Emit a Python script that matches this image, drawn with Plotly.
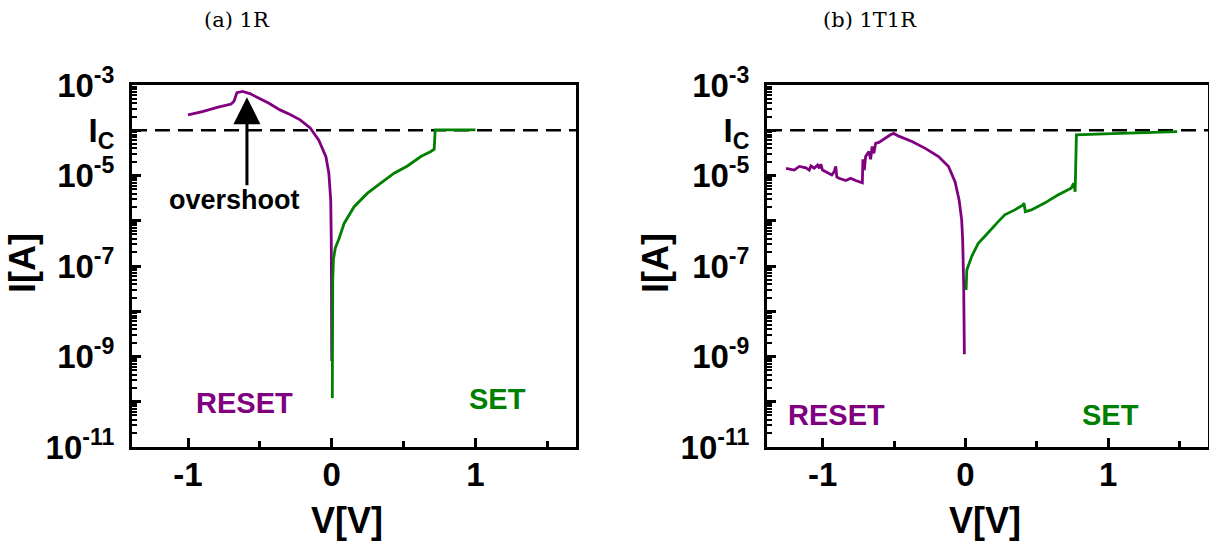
import numpy as np
import plotly.graph_objects as go

# ---------------- data (log10 of current) ----------------
reset_1r_v = [-1.00, -0.90, -0.79, -0.70, -0.68, -0.66, -0.62, -0.57, -0.52, -0.44, -0.36,
              -0.29, -0.22, -0.15, -0.09, -0.04, -0.02, -0.007, -0.003, -0.001, 0.0]
reset_1r_logi = [-3.66, -3.59, -3.49, -3.42, -3.36, -3.17, -3.14, -3.19, -3.27, -3.40, -3.55,
                 -3.65, -3.77, -3.95, -4.22, -4.59, -4.95, -5.54, -6.5, -7.8, -9.10]

set_1r_v = [0.004, 0.005, 0.007, 0.012, 0.025, 0.051, 0.086, 0.156, 0.249, 0.341, 0.434,
            0.527, 0.620, 0.690, 0.713, 0.720, 0.80, 0.90, 1.00]
set_1r_logi = [-9.92, -8.40, -7.30, -6.85, -6.60, -6.39, -6.06, -5.69, -5.39, -5.17, -4.95,
               -4.79, -4.58, -4.47, -4.42, -3.99, -3.99, -3.99, -3.99]

reset_1t1r_v = [-1.257, -1.199, -1.164, -1.117, -1.094, -1.082, -1.059, -1.036, -1.024, -1.013,
                -1.001, -0.978, -0.955, -0.936, -0.920, -0.908, -0.901, -0.885, -0.838, -0.804,
                -0.769, -0.722, -0.718, -0.708, -0.699, -0.676, -0.664, -0.653, -0.641, -0.629,
                -0.606, -0.583, -0.560, -0.525, -0.502, -0.467, -0.374, -0.281, -0.188, -0.118,
                -0.072, -0.044, -0.026, -0.019, -0.012, -0.007]
reset_1t1r_logi = [-4.84, -4.88, -4.80, -4.83, -4.88, -4.79, -4.84, -4.77, -4.84, -4.75,
                   -4.88, -4.92, -4.95, -4.99, -4.92, -4.80, -5.03, -5.06, -5.11, -5.06,
                   -5.11, -5.16, -4.64, -4.88, -4.58, -4.47, -4.64, -4.36, -4.51, -4.29,
                   -4.27, -4.22, -4.16, -4.10, -4.07, -4.13, -4.25, -4.40, -4.58, -4.80,
                   -5.14, -5.54, -5.98, -6.43, -7.40, -8.95]

set_1t1r_v = [0.005, 0.010, 0.044, 0.090, 0.140, 0.183, 0.230, 0.276, 0.346, 0.404, 0.410,
              0.420, 0.462, 0.555, 0.648, 0.741, 0.760, 0.769, 0.778, 0.973, 1.200, 1.484]
set_1t1r_logi = [-7.53, -7.09, -6.79, -6.50, -6.33, -6.17, -6.02, -5.87, -5.76, -5.65, -5.61,
                 -5.80, -5.76, -5.61, -5.43, -5.28, -5.17, -5.36, -4.10, -4.08, -4.06, -4.03]

ic_current = 1e-4
v_range = [-1.39, 1.70]

y_tickvals = [1e-3, 1e-4, 1e-5, 1e-6, 1e-7, 1e-8, 1e-9, 1e-10, 1e-11]
y_ticktext = ["10<sup>-3</sup>", "I<sub>C</sub>", "10<sup>-5</sup>", "", "10<sup>-7</sup>", "",
              "10<sup>-9</sup>", "", "10<sup>-11</sup>"]
x_tickvals = [-1, 0, 1]
x_ticktext = ["-1", "0", "1"]

PURPLE = "#800080"
GREEN = "#008000"

fig = go.Figure()

def add_panel(fig, xa, ya, rv, rl, sv, sl):
    fig.add_trace(go.Scatter(x=v_range, y=[ic_current, ic_current], mode="lines",
                             line=dict(color="black", width=2.4, dash="15px,8px"),
                             xaxis=xa, yaxis=ya, showlegend=False, hoverinfo="skip"))
    fig.add_trace(go.Scatter(x=rv, y=np.power(10.0, rl), mode="lines",
                             line=dict(color=PURPLE, width=2.8), xaxis=xa, yaxis=ya,
                             showlegend=False))
    fig.add_trace(go.Scatter(x=sv, y=np.power(10.0, sl), mode="lines",
                             line=dict(color=GREEN, width=2.8), xaxis=xa, yaxis=ya,
                             showlegend=False))

add_panel(fig, "x", "y", reset_1r_v, reset_1r_logi, set_1r_v, set_1r_logi)
add_panel(fig, "x2", "y2", reset_1t1r_v, reset_1t1r_logi, set_1t1r_v, set_1t1r_logi)

tickfont = dict(family="Liberation Sans, Arial", size=33, color="black", weight="bold")
minor_y = [k * 10.0 ** e for e in range(-11, -3) for k in range(2, 10)]

xaxis_common = dict(range=v_range, tickmode="array", tickvals=x_tickvals, ticktext=x_ticktext,
                    ticks="inside", ticklen=9, tickwidth=3, tickcolor="black",
                    showline=True, linewidth=3, linecolor="black", mirror=True,
                    showgrid=False, zeroline=False, tickfont=tickfont, ticklabelstandoff=-4,
                    automargin=False,
                    minor=dict(tickmode="array", tickvals=[-0.5, 0.5, 1.5], ticks="inside",
                               ticklen=6, tickwidth=3, tickcolor="black", showgrid=False))
yaxis_common = dict(type="log", range=[-11, -3], tickmode="array", tickvals=y_tickvals,
                    ticktext=y_ticktext, ticks="inside", ticklen=9, tickwidth=3,
                    tickcolor="black", showline=True, linewidth=3, linecolor="black",
                    mirror=True, showgrid=False, zeroline=False, tickfont=tickfont,
                    ticklabelstandoff=8, automargin=False,
                    minor=dict(tickmode="array", tickvals=minor_y, ticks="inside", ticklen=5,
                               tickwidth=1.5, tickcolor="black", showgrid=False))

ydom = [1 - 447 / 545, 1 - 85 / 545]
fig.update_layout(
    width=1209, height=545,
    margin=dict(l=0, r=0, t=0, b=0, pad=0, autoexpand=False),
    paper_bgcolor="white", plot_bgcolor="white", showlegend=False,
    xaxis=dict(domain=[132 / 1209, 576 / 1209], anchor="y", **xaxis_common),
    yaxis=dict(domain=ydom, anchor="x", **yaxis_common),
    xaxis2=dict(domain=[767 / 1209, 1208 / 1209], anchor="y2", **xaxis_common),
    yaxis2=dict(domain=ydom, anchor="x2", **yaxis_common),
)

ann_font_big = dict(family="Liberation Sans, Arial", size=36, color="black", weight="bold")
lab_font = dict(family="Liberation Sans, Arial", size=29, weight="bold")
title_font = dict(family="DejaVu Serif, serif", size=21, color="black")

C = dict(xanchor="center", yanchor="middle", showarrow=False)
annotations = [
    dict(text="(a) 1R", x=237 / 1209, y=1 - 20 / 545, xref="paper", yref="paper",
         font=title_font, **C),
    dict(text="(b) 1T1R", x=870 / 1209, y=1 - 20 / 545, xref="paper", yref="paper",
         font=title_font, **C),
    dict(text="I[A]", x=22 / 1209, y=1 - 263 / 545, xref="paper", yref="paper",
         textangle=-90, font=ann_font_big, **C),
    dict(text="I[A]", x=655 / 1209, y=1 - 263 / 545, xref="paper", yref="paper",
         textangle=-90, font=ann_font_big, **C),
    dict(text="V[V]", x=347 / 1209, y=1 - 520 / 545, xref="paper", yref="paper",
         font=ann_font_big, **C),
    dict(text="V[V]", x=985 / 1209, y=1 - 520 / 545, xref="paper", yref="paper",
         font=ann_font_big, **C),
    # panel (a) labels
    dict(text="RESET", x=-0.61, y=-10.02, xref="x", yref="y",
         font=dict(color=PURPLE, **lab_font), **C),
    dict(text="SET", x=1.157, y=-9.94, xref="x", yref="y",
         font=dict(color=GREEN, **lab_font), **C),
    dict(text="overshoot", x=-0.68, y=-5.54, xref="x", yref="y",
         font=dict(color="black", family="Liberation Sans, Arial", size=27, weight="bold"),
         **C),
    dict(text="", x=-0.59, y=-3.27, ax=-0.59, ay=-5.25, xref="x", yref="y",
         axref="x", ayref="y", showarrow=True, arrowhead=2, arrowsize=1.8,
         arrowwidth=3, arrowcolor="black"),
    # panel (b) labels
    dict(text="RESET", x=-0.90, y=-10.29, xref="x2", yref="y2",
         font=dict(color=PURPLE, **lab_font), **C),
    dict(text="SET", x=1.014, y=-10.29, xref="x2", yref="y2",
         font=dict(color=GREEN, **lab_font), **C),
]
fig.update_layout(annotations=annotations)

fig.write_html("out.html")
